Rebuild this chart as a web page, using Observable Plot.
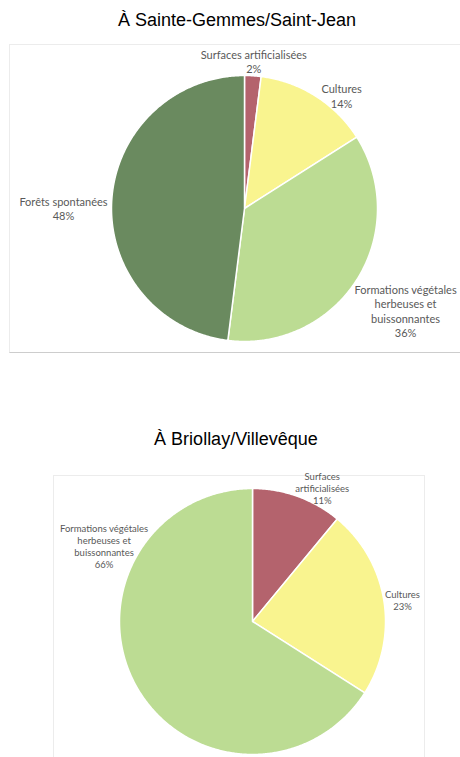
<!DOCTYPE html>
<html><head><meta charset="utf-8">
<script src="https://cdn.jsdelivr.net/npm/d3@7"></script>
<script src="https://cdn.jsdelivr.net/npm/@observablehq/plot@0.6"></script>
<style>
body{margin:0;background:#fff;width:460px;height:757px;overflow:hidden;position:relative;font-family:"Liberation Sans",Arial,sans-serif}
.title{position:absolute;left:0;width:474px;text-align:center;font-size:18px;color:#000;line-height:21px}
.box{position:absolute;border:1px solid #ececec;border-bottom-color:#cdcdcd;box-sizing:border-box}
.chart{position:absolute;left:0}
</style></head><body>
<div class="title" style="top:10px">À Sainte-Gemmes/Saint-Jean</div>
<div class="box" style="left:9px;top:44px;width:470px;height:309px"></div>
<div class="title" style="top:429px;width:472px">À Briollay/Villevêque</div>
<div class="box" style="left:53px;top:475px;width:372px;height:300px"></div>
<div id="c1" class="chart" style="top:44px"></div>
<div id="c2" class="chart" style="top:475px"></div>
<script>
// Data
const categories1 = ["Surfaces artificialisées", "Cultures", "Formations végétales herbeuses et buissonnantes", "Forêts spontanées"];
const values1 = [2, 14, 36, 48];
const labels1 = ["Surfaces artificialisées\n2%", "Cultures\n14%", "Formations végétales\nherbeuses et\nbuissonnantes\n36%", "Forêts spontanées\n48%"];

const categories2 = ["Surfaces artificialisées", "Cultures", "Formations végétales herbeuses et buissonnantes"];
const values2 = [11, 23, 66];
const labels2 = ["Surfaces\nartificialisées\n11%", "Cultures\n23%", "Formations végétales\nherbeuses et\nbuissonnantes\n66%"];

// Label placement (fraction along slice, radius in pie radii)
const labelT1 = [0.5, 0.667, 0.5, 0.479];
const labelR1 = [1.107, 1.117, 1.434, 1.361];
const labelT2 = [0.697, 0.51, 0.735];
const labelR2 = [1.132, 1.139, 1.253];

const colorDomain = ["Surfaces artificialisées", "Cultures", "Formations végétales herbeuses et buissonnantes", "Forêts spontanées"];
const colorRange = ["#b4636d", "#f9f48f", "#bcdc93", "#6a8a5f"];

function slices(cats, vals) {
  const total = d3.sum(vals);
  let acc = 0;
  const pts = [];
  const arcs = [];
  cats.forEach((c, i) => {
    const a0 = acc / total * 360;
    acc += vals[i];
    const a1 = acc / total * 360;
    arcs.push({cat: c, a0, a1});
    pts.push({cat: c, x: 0, y: 0});
    const n = Math.max(2, Math.ceil((a1 - a0) / 0.5));
    for (let k = 0; k <= n; k++) {
      const a = (a0 + (a1 - a0) * k / n) * Math.PI / 180;
      pts.push({cat: c, x: Math.sin(a), y: Math.cos(a)});
    }
    pts.push({cat: c, x: 0, y: 0});
  });
  return {pts, arcs};
}

function pie(el, cats, vals, labels, lt, lr, opts) {
  const {pts, arcs} = slices(cats, vals);
  const lab = arcs.map((s, i) => {
    const a = (s.a0 + (s.a1 - s.a0) * lt[i]) * Math.PI / 180;
    return {text: labels[i], x: Math.sin(a) * lr[i], y: Math.cos(a) * lr[i]};
  });
  const R = opts.R, W = 460, H = opts.H, cx = opts.cx, cy = opts.cy;
  const chart = Plot.plot({
    width: W, height: H,
    margin: 0,
    style: {background: "transparent", overflow: "visible"},
    x: {domain: [-cx / R, (W - cx) / R], axis: null},
    y: {domain: [(cy - H) / R, cy / R], axis: null},
    color: {domain: colorDomain, range: colorRange},
    marks: [
      Plot.line(pts, {x: "x", y: "y", z: "cat", fill: "cat", stroke: "white", strokeWidth: 1.5, strokeLinejoin: "round"}),
      Plot.text(lab, {x: "x", y: "y", text: "text", fill: "#595959", fontSize: opts.fs, lineHeight: opts.lh, fontFamily: "Lato, 'Open Sans', sans-serif", textAnchor: "middle"})
    ]
  });
  document.getElementById(el).appendChild(chart);
}

pie("c1", categories1, values1, labels1, labelT1, labelR1, {R: 133, H: 308, cx: 244, cy: 164, fs: 11, lh: 1.32});
pie("c2", categories2, values2, labels2, labelT2, labelR2, {R: 133, H: 282, cx: 252, cy: 146, fs: 9.5, lh: 1.26});
</script>
</body></html>
